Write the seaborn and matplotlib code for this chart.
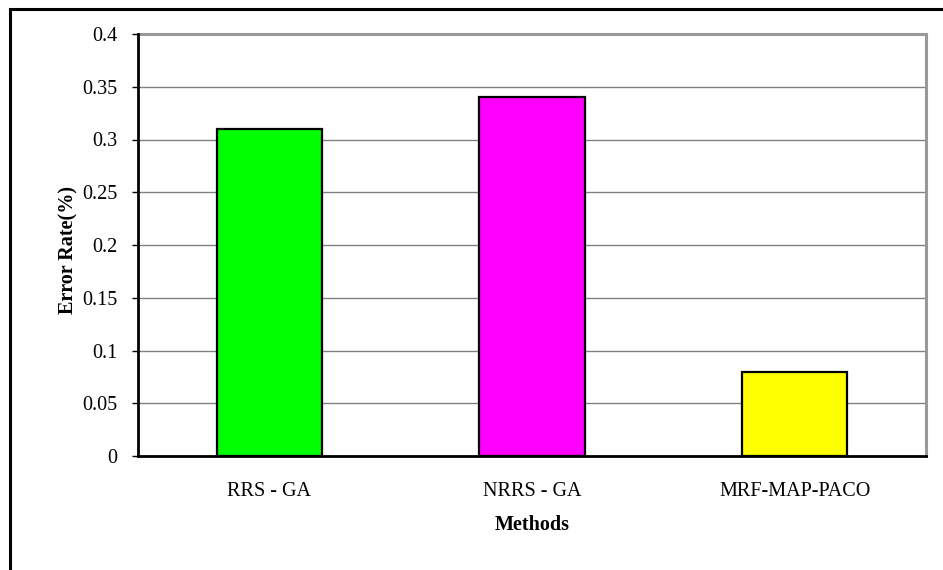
import matplotlib
matplotlib.use("Agg")
import matplotlib.pyplot as plt
from matplotlib.patches import Rectangle
import seaborn as sns
import pandas as pd
import numpy as np

methods = ["RRS - GA", "NRRS - GA", "MRF-MAP-PACO"]
error_rate = [0.31, 0.34, 0.08]
bar_colors = ["#00FF00", "#FF00FF", "#FFFF00"]
y_ticks = [0, 0.05, 0.1, 0.15, 0.2, 0.25, 0.3, 0.35, 0.4]
y_tick_labels = ["0", "0.05", "0.1", "0.15", "0.2", "0.25", "0.3", "0.35", "0.4"]

sns.set_theme(style="white")
plt.rcParams["font.family"] = ["Liberation Serif", "DejaVu Serif"]

df = pd.DataFrame({"Methods": methods, "Error": error_rate})

fig = plt.figure(figsize=(9.43, 5.70), dpi=100)
ax = fig.add_axes([138/943, 1-456/570, (926-138)/943, (456-34)/570])

sns.barplot(data=df, x="Methods", y="Error", hue="Methods", palette=bar_colors,
            legend=False, width=0.4, saturation=1, edgecolor="black", linewidth=1.6,
            ax=ax, zorder=3)

ax.set_ylim(0, 0.4)
ax.set_xlim(-0.5, 2.5)
ax.set_yticks(y_ticks)
ax.set_yticklabels(y_tick_labels)
ax.yaxis.grid(True, color="#808080", linewidth=1.0, zorder=0)
ax.set_axisbelow(True)

# category boundary ticks
ax.set_xticks([-0.5, 0.5, 1.5, 2.5], minor=True)
ax.tick_params(axis="x", which="minor", length=5, width=1, color="black", direction="out")
ax.tick_params(axis="x", which="major", length=0, pad=19, labelsize=14.5, colors="black")
ax.tick_params(axis="y", which="major", length=4, width=1, color="black", direction="out",
               pad=11, labelsize=14.5, labelcolor="black", left=True)

for s in ["left", "bottom"]:
    ax.spines[s].set_color("black")
    ax.spines[s].set_linewidth(2)
    ax.spines[s].set_zorder(4)
for s in ["top", "right"]:
    ax.spines[s].set_visible(True)
    ax.spines[s].set_color("#999999")
    ax.spines[s].set_linewidth(2.2)

ax.set_xlabel("Methods", fontsize=14.5, fontweight="bold", color="black", labelpad=10)
ax.set_ylabel("Error Rate(%)", fontsize=14.5, fontweight="bold", color="black")
ax.yaxis.set_label_coords((78 - 138) / 788, (456 - 250) / 422)

# outer chart border
fig.patches.append(Rectangle((9.5/943, -0.5), 2.0, 1.5 - 8.5/570, transform=fig.transFigure,
                             fill=False, edgecolor="black", linewidth=2.2, zorder=10))

fig.savefig("out.png", dpi=100, facecolor="white")
